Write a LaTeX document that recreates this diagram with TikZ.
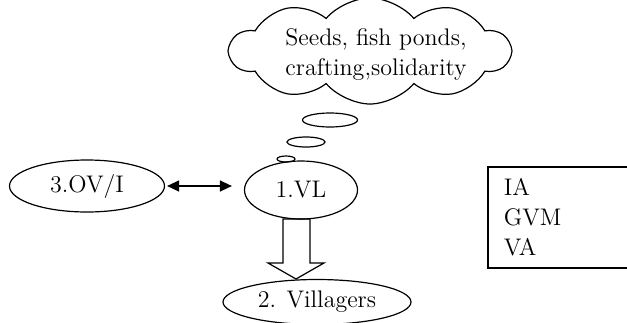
\documentclass[tikz,border=0pt]{standalone}
\usetikzlibrary{shapes.geometric,shapes.symbols,arrows.meta}

\begin{document}
\begin{tikzpicture}[x=0.5pt,y=-0.5pt,
    every node/.style={font=\fontsize{12}{15}\selectfont},
    actor/.style={draw,ellipse,line width=0.6pt,inner sep=0pt},
    bubble/.style={draw,ellipse,line width=0.6pt,inner sep=0pt}]
    \clip (0,0) rectangle (627,322);

    % Define the positions of the nodes
    \node[cloud,draw,cloud puffs=10,cloud puff arc=100,aspect=2.6,line width=0.6pt,inner sep=0pt,
        minimum width=140pt,minimum height=53pt] (needs) at (370,51) {};
    \node[align=center] (needstext) at (376,55) {Seeds, fish ponds,\\crafting,solidarity};
    \node[bubble,minimum width=27.5pt,minimum height=7pt] (bub1) at (330,120) {};
    \node[bubble,minimum width=19pt,minimum height=5pt] (bub2) at (306,142) {};
    \node[bubble,minimum width=9pt,minimum height=3pt] (bub3) at (286,159) {};

    \node[actor,minimum width=56.5pt,minimum height=29pt] (vl) at (301,190) {1.VL};
    \node[actor,minimum width=77.5pt,minimum height=26pt] (ovi) at (87,186) {3.OV/I};
    \node[actor,minimum width=94pt,minimum height=22.5pt] (vil) at (317,302) {2. Villagers};

    \node[draw,line width=0.9pt,anchor=north west,minimum height=50.5pt,text width=66pt,
        inner xsep=8pt,align=left] (roles) at (487,166) {IA\\GVM\\VA};

    % Draw the edges
    \draw[{Triangle[length=6pt,width=5.5pt]}-{Triangle[length=6pt,width=5.5pt]},line width=0.7pt,
        shorten <=1pt,shorten >=6pt] (ovi.east) -- (vl.west |- ovi.east);
    \coordinate (flow) at (296,249);
    \draw[line width=0.6pt] (flow) ++(-13,-30) -- ++(27,0) -- ++(0,44) -- ++(14,0)
        -- ++(-28,16) -- ++(-28,-16) -- ++(15,0) -- cycle;
\end{tikzpicture}
\end{document}
